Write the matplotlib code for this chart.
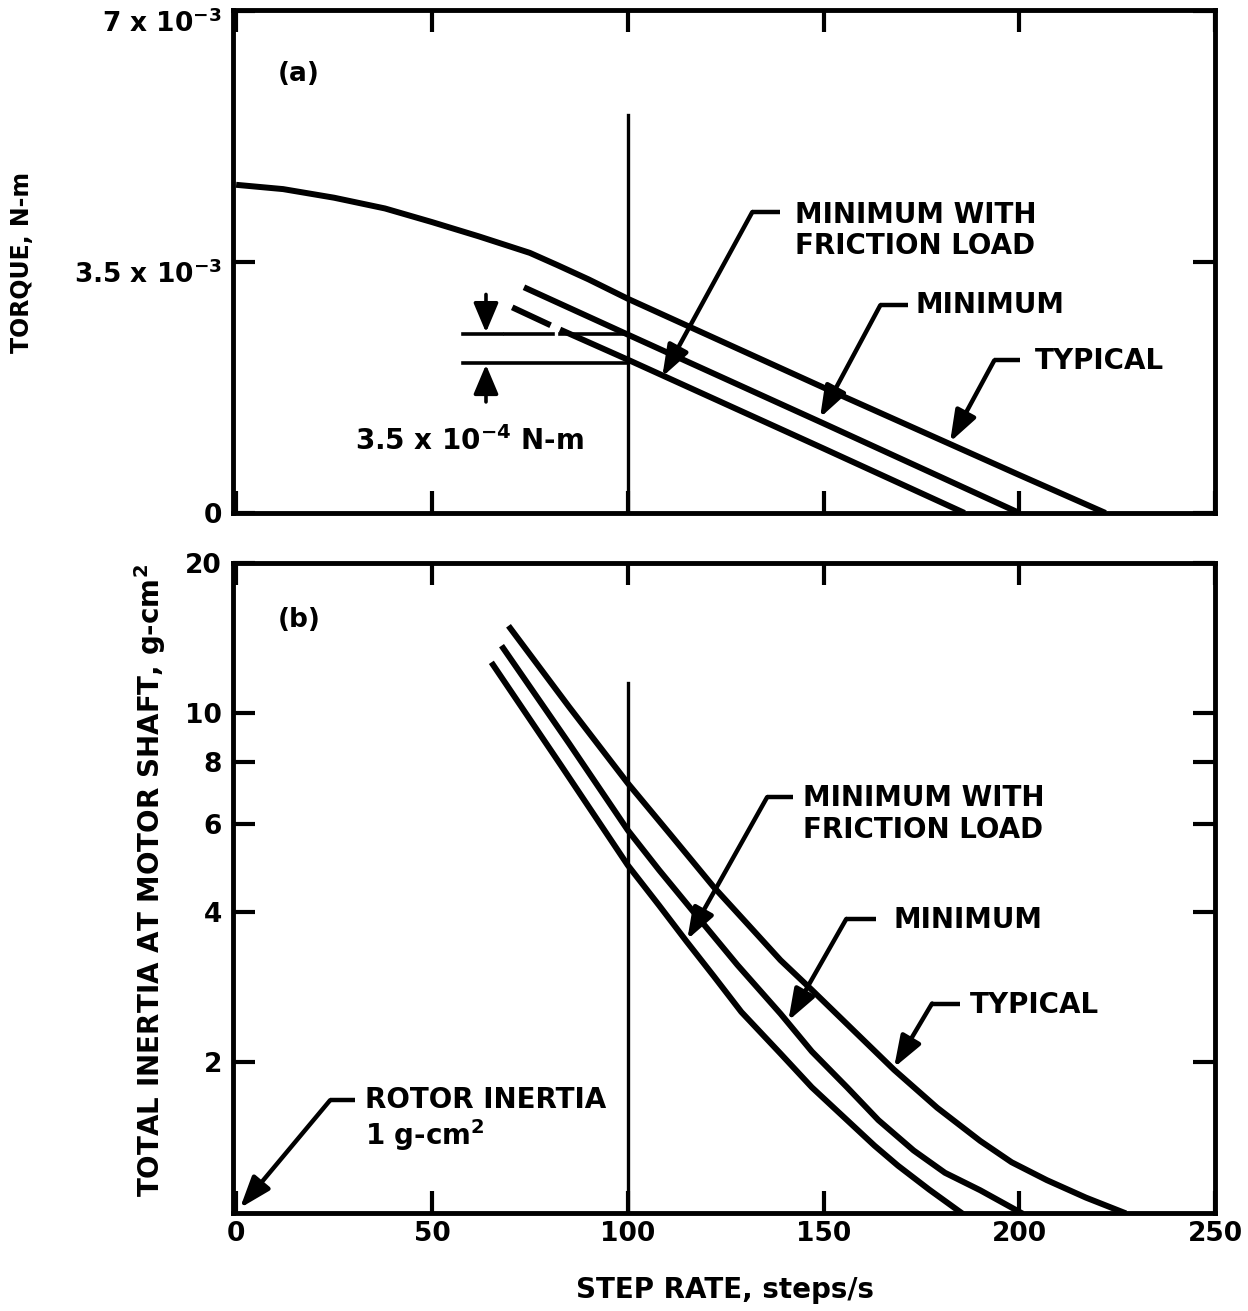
import matplotlib
matplotlib.use("Agg")
import matplotlib.pyplot as plt
import matplotlib.transforms as mtransforms

plt.rcParams['font.family'] = ['DejaVu Sans']
plt.rcParams['font.weight'] = 'bold'
plt.rcParams['mathtext.fontset'] = 'custom'
plt.rcParams['mathtext.rm'] = 'DejaVu Sans:bold'
plt.rcParams['mathtext.default'] = 'rm'

# ---------------- data (a) torque vs step rate ----------------
typ_a_x = [0, 12, 25, 38, 50, 62, 75, 82, 90, 100, 125, 150, 175, 200, 222]
typ_a_y = [4.58e-3, 4.52e-3, 4.40e-3, 4.25e-3, 4.06e-3, 3.86e-3, 3.63e-3, 3.46e-3, 3.26e-3,
           2.99e-3, 2.37e-3, 1.75e-3, 1.14e-3, 0.53e-3, 0.0]
min_a_x = [73.5, 100, 150, 200]
min_a_y = [3.15e-3, 2.49e-3, 1.25e-3, 0.0]
fric_a_x1 = [70.5, 80.3]
fric_a_y1 = [2.87e-3, 2.62e-3]
fric_a_x2 = [82.7, 100, 150, 186]
fric_a_y2 = [2.56e-3, 2.14e-3, 0.90e-3, 0.0]

# ---------------- data (b) inertia vs step rate ----------------
typ_b_x = [70, 85, 100, 111, 122, 131, 139, 147, 158, 168, 179, 190, 198, 207, 217, 226.5]
typ_b_y = [14.8, 10.3, 7.24, 5.7, 4.48, 3.75, 3.20, 2.79, 2.30, 1.93, 1.62, 1.39, 1.26, 1.16, 1.07, 1.0]
min_b_x = [68.2, 85, 100, 108, 117, 128, 139, 147, 156, 164, 173, 181, 190, 200.2]
min_b_y = [13.5, 8.7, 5.83, 4.85, 3.98, 3.13, 2.50, 2.10, 1.78, 1.53, 1.33, 1.20, 1.107, 1.0]
fric_b_x = [65.6, 83, 100, 108, 115, 122, 129, 139, 147, 156, 163, 169, 177, 185]
fric_b_y = [12.5, 7.85, 4.96, 4.12, 3.49, 2.97, 2.52, 2.08, 1.78, 1.53, 1.36, 1.24, 1.11, 1.0]

x_ticks = [0, 50, 100, 150, 200, 250]
x_ticklabels = ['0', '50', '100', '150', '200', '250']
a_yticks = [0, 3.5e-3, 7e-3]
a_yticklabels = ['0', '3.5 x 10$^{-3}$', '7 x 10$^{-3}$']
b_yticks = [2, 4, 6, 8, 10, 20]
b_yticklabels = ['2', '4', '6', '8', '10', '20']

LW = 4.3
fig = plt.figure(figsize=(12.48, 13.11), dpi=100)
ax1 = fig.add_axes([0.1867, 0.6087, 0.787, 0.3837])
ax2 = fig.add_axes([0.1867, 0.0748, 0.787, 0.4958])

for ax in (ax1, ax2):
    for s in ax.spines.values():
        s.set_linewidth(3.5)
    ax.set_xlim(-0.8, 250)
    ax.set_xticks(x_ticks)
    ax.tick_params(direction='in', length=16, width=3, top=True, right=True,
                   labelsize=19, pad=8)
    ax.tick_params(axis='x', pad=6)

# ---- panel (a)
ax1.set_ylim(0, 7.02e-3)
ax1.set_yticks(a_yticks)
ax1.set_yticklabels(a_yticklabels, fontsize=19, fontweight='bold')
offset = mtransforms.ScaledTranslation(0, -7 / 72, fig.dpi_scale_trans)
for lab in ax1.get_yticklabels()[1:]:
    lab.set_transform(lab.get_transform() + offset)
ax1.set_xticklabels([])
ax1.plot(typ_a_x, typ_a_y, color='black', lw=LW, solid_capstyle='butt')
ax1.plot(min_a_x, min_a_y, color='black', lw=LW, solid_capstyle='butt')
ax1.plot(fric_a_x1, fric_a_y1, color='black', lw=LW, solid_capstyle='butt')
ax1.plot(fric_a_x2, fric_a_y2, color='black', lw=LW, solid_capstyle='butt')
ax1.plot([100, 100], [0, 5.56e-3], color='black', lw=2.4)
# dimension lines
ax1.plot([58, 68], [2.50e-3, 2.50e-3], color='black', lw=2.6)
ax1.plot([68.7, 81], [2.50e-3, 2.50e-3], color='black', lw=2.6)
ax1.plot([82.7, 100], [2.50e-3, 2.50e-3], color='black', lw=2.6)
ax1.plot([58, 100], [2.09e-3, 2.09e-3], color='black', lw=2.6)
head = dict(arrowstyle='-|>,head_length=0.9,head_width=0.38', color='black',
            lw=2.6, mutation_scale=20, shrinkA=0, shrinkB=0)
ax1.annotate('', xy=(63.8, 2.52e-3), xytext=(63.8, 3.05e-3), arrowprops=head)
ax1.annotate('', xy=(63.8, 2.07e-3), xytext=(63.8, 1.55e-3), arrowprops=head)
ax1.text(30.4, 1.01e-3, '3.5 x 10$^{-4}$ N-m', fontsize=20, fontweight='bold',
         va='center', ha='left')
ax1.text(10.5, 6.12e-3, '(a)', fontsize=19, fontweight='bold', va='center')

def leader(ax, txt, tx, ty, lx0, lx1, ly, tipx, tipy):
    ax.plot([lx0, lx1], [ly, ly], color='black', lw=3.2, solid_capstyle='butt')
    ax.annotate('', xy=(tipx, tipy), xytext=(lx0, ly),
                arrowprops=dict(arrowstyle='-|>,head_length=0.95,head_width=0.34',
                                color='black', lw=3.2, mutation_scale=20,
                                shrinkA=0, shrinkB=0))
    ax.text(tx, ty, txt, fontsize=20, fontweight='bold', va='center', ha='left',
            linespacing=1.15)

leader(ax1, 'MINIMUM WITH\nFRICTION LOAD', 142.7, 3.94e-3, 131.8, 139.0, 4.20e-3, 108.8, 1.90e-3)
leader(ax1, 'MINIMUM', 173.4, 2.90e-3, 164.5, 171.6, 2.90e-3, 149.1, 1.33e-3)
leader(ax1, 'TYPICAL', 204.0, 2.12e-3, 193.6, 200.2, 2.13e-3, 182.3, 0.99e-3)

# ---- panel (b)
ax2.set_yscale('log')
ax2.set_ylim(0.997, 20)
ax2.set_yticks(b_yticks)
ax2.set_yticklabels(b_yticklabels, fontsize=19, fontweight='bold')
ax2.yaxis.set_minor_locator(matplotlib.ticker.NullLocator())
ax2.set_xticklabels(x_ticklabels, fontsize=19, fontweight='bold')
ax2.plot(typ_b_x, typ_b_y, color='black', lw=LW)
ax2.plot(min_b_x, min_b_y, color='black', lw=LW)
ax2.plot(fric_b_x, fric_b_y, color='black', lw=LW)
ax2.plot([100, 100], [0.997, 11.5], color='black', lw=2.4)
ax2.text(10.5, 15.4, '(b)', fontsize=19, fontweight='bold', va='center')

leader(ax2, 'MINIMUM WITH\nFRICTION LOAD', 144.8, 6.28, 135.6, 142.2, 6.79, 115.2, 3.52)
leader(ax2, 'MINIMUM', 167.8, 3.85, 155.8, 163.4, 3.87, 141.0, 2.42)
leader(ax2, 'TYPICAL', 187.4, 2.60, 177.7, 184.9, 2.62, 168.0, 1.95)
leader(ax2, 'ROTOR INERTIA', 33.0, 1.68, 24.0, 30.4, 1.677, 1.0, 1.02)
ax2.text(33.0, 1.43, '1 g-cm$^{2}$', fontsize=20, fontweight='bold', va='center', ha='left')

fig.text(22 / 1248, 1 - 262 / 1311, 'TORQUE, N-m', rotation=90, fontsize=17,
         fontweight='bold', ha='center', va='center')
fig.text(150 / 1248, 1 - 880 / 1311, 'TOTAL INERTIA AT MOTOR SHAFT, g-cm$^{2}$', rotation=90,
         fontsize=20, fontweight='bold', ha='center', va='center')
fig.text(725 / 1248, 1 - 1290 / 1311, 'STEP RATE, steps/s', fontsize=20,
         fontweight='bold', ha='center', va='center')

fig.savefig('out.png', dpi=100)
